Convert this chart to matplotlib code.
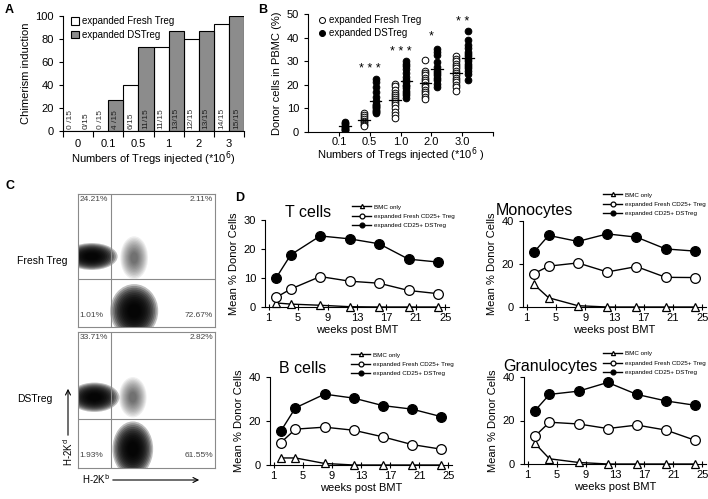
import numpy as np
import matplotlib
matplotlib.use("Agg")
import matplotlib.pyplot as plt
from matplotlib.patches import Ellipse, FancyArrowPatch

plt.rcParams['font.family'] = ['Liberation Sans', 'DejaVu Sans']
plt.rcParams['axes.linewidth'] = 0.8

# ---- panel A: chimerism induction ----
doses_a = ["0", "0.1", "0.5", "1", "2", "3"]
fresh_pct = [0, 0, 40, 73.3, 80, 93.3]
ds_pct = [0, 26.7, 73.3, 86.7, 86.7, 100]
fresh_lbl = ["0 /15", "0 /15", "6/15", "11/15", "12/15", "14/15"]
ds_lbl = ["0/15", "4 /15", "11/15", "13/15", "13/15", "15/15"]

# ---- panel B: donor cells in PBMC ----
doses_b = ["0.1", "0.5", "1.0", "2.0", "3.0"]
b_fresh = [
    [],
    [8.0, 7.2, 6.2, 5.5, 4.8, 4.2, 3.6, 3.0, 2.5],
    [20.5, 19.5, 18, 16.5, 15.5, 15, 14, 13, 12.5, 11.5, 10, 8.5, 7, 6],
    [30.5, 26, 25, 24, 23, 22, 21, 20, 19, 18, 17, 16, 15, 14],
    [32, 31, 30, 29, 28, 27, 26, 25, 24, 23, 22, 21, 20, 19, 17.5],
]
b_ds = [
    [4.3, 3.8, 3.2, 2.7, 2.3, 1.8, 1.4, 1.0, 0.8],
    [22.5, 21, 19, 17, 15, 13, 12, 11.5, 11, 10.5, 10, 9.5, 9, 8.5, 8.0],
    [30, 29, 28, 26.5, 25, 23.5, 22, 21, 20, 19.5, 18.5, 17.5, 16.5, 15.5, 14.5],
    [35, 34, 32.5, 29.5, 27.5, 26, 25, 24, 23, 22, 20.5, 19],
    [43, 39, 37, 35.5, 34, 33, 32, 31, 30, 29, 28, 27, 26, 24.5, 22],
]
stars = ["", "* * *", "* * *", "*", "* *"]
star_y = [0, 26.5, 34, 40.5, 46.5]

# ---- panel C: flow plots (population centre x, y, width, height, density) ----
flow_names = ["Fresh Treg", "DSTreg"]
flow_pops = [
    [(0.10, 0.53, 0.28, 0.15, 1.0), (0.41, 0.12, 0.26, 0.30, 1.0), (0.41, 0.52, 0.15, 0.24, 0.25)],
    [(0.12, 0.52, 0.27, 0.16, 1.0), (0.40, 0.14, 0.22, 0.30, 1.0), (0.40, 0.52, 0.15, 0.22, 0.25)],
]
flow_pct = [
    ["24.21%", "2.11%", "1.01%", "72.67%"],
    ["33.71%", "2.82%", "1.93%", "61.55%"],
]

# ---- panel D: mean % donor cells over time ----
weeks = [2, 4, 8, 12, 16, 20, 24]
d_titles = ["T cells", "Monocytes", "B cells", "Granulocytes"]
d_bmc = [
    [1.4, 1.0, 0.6, 0.1, 0, 0, 0],
    [10.5, 4.3, 0.6, 0, 0, 0, 0],
    [3.2, 3.2, 0.7, 0, 0, 0, 0],
    [9.5, 2.4, 0.7, 0, 0, 0, 0],
]
d_fresh = [
    [3.3, 6.2, 10.5, 8.9, 8.2, 5.7, 4.6],
    [15.5, 19, 20.5, 16.3, 18.8, 13.8, 13.7],
    [10.2, 16.3, 17.2, 15.8, 12.8, 9.3, 7.2],
    [12.8, 19.2, 18.4, 16.3, 17.9, 15.6, 10.9],
]
d_ds = [
    [10, 18, 24.5, 23.5, 21.8, 16.5, 15.5],
    [25.5, 33.3, 30.5, 34, 32.5, 27, 26],
    [15.5, 26, 32.2, 30.4, 27, 25.4, 22],
    [24.5, 32, 33.5, 37.5, 32, 29, 27],
]
d_ymax = [30, 40, 40, 40]
d_yticks = [[0, 10, 20, 30], [0, 20, 40], [0, 20, 40], [0, 20, 40]]

W, H = 708, 499
fig = plt.figure(figsize=(W / 100, H / 100), dpi=100)


def add_ax(l, t, r, b):
    return fig.add_axes([l / W, 1 - b / H, (r - l) / W, (b - t) / H])


def fig_text(x, y, s, **kw):
    fig.text(x / W, 1 - y / H, s, **kw)


def clean(ax):
    ax.spines['top'].set_visible(False)
    ax.spines['right'].set_visible(False)


# ================= A =================
ax = add_ax(63, 16, 244, 131)
clean(ax)
cx = np.arange(len(doses_a)) + 0.5
ax.bar(cx - 0.25, fresh_pct, 0.5, color='white', edgecolor='black', lw=0.8,
       label='expanded Fresh Treg')
ax.bar(cx + 0.25, ds_pct, 0.5, color='#8c8c8c', edgecolor='black', lw=0.8,
       label='expanded DSTreg')
for i in range(len(doses_a)):
    ax.text(cx[i] - 0.25, 2, fresh_lbl[i], rotation=90, ha='center', va='bottom',
            fontsize=6, color='#333333')
    ax.text(cx[i] + 0.25, 2, ds_lbl[i], rotation=90, ha='center', va='bottom',
            fontsize=6, color='#222222')
ax.set_xlim(0, 6)
ax.set_ylim(0, 100)
ax.set_yticks([0, 20, 40, 60, 80, 100])
ax.set_xticks(np.arange(7))
ax.set_xticklabels([])
ax.set_xticks(cx, minor=True)
ax.set_xticklabels(doses_a, minor=True, fontsize=8)
ax.tick_params(axis='x', which='minor', length=0, pad=6)
ax.tick_params(axis='x', which='major', length=4, width=0.8)
ax.tick_params(axis='y', labelsize=8, length=3, width=0.8)
ax.set_ylabel("Chimerism induction", fontsize=8, labelpad=3)
ax.set_xlabel("Numbers of Tregs injected (*10$^{6}$)", fontsize=8, labelpad=0)
ax.legend(loc='upper left', bbox_to_anchor=(0.02, 1.04), frameon=False, fontsize=7,
          handlelength=0.8, handleheight=0.8, handletextpad=0.3, labelspacing=0.35,
          borderpad=0)

# ================= B =================
ax = add_ax(308, 14, 493, 132)
clean(ax)
for i in range(len(doses_b)):
    g = i + 1
    if b_fresh[i]:
        ax.plot([g - 0.19] * len(b_fresh[i]), b_fresh[i], 'o', ms=4.8, mfc='white',
                mec='black', mew=0.7, label='expanded Fresh Treg' if i == 1 else None)
        m = np.mean(b_fresh[i])
        ax.plot([g - 0.38, g], [m, m], color='black', lw=0.9)
    ax.plot([g + 0.19] * len(b_ds[i]), b_ds[i], 'o', ms=4.8, mfc='black',
            mec='black', mew=0.7, label='expanded DSTreg' if i == 0 else None)
    m = np.mean(b_ds[i])
    ax.plot([g, g + 0.38], [m, m], color='black', lw=0.9)
    if stars[i]:
        ax.text(g, star_y[i], stars[i], ha='center', va='center', fontsize=9)
ax.set_xlim(0, 6)
ax.set_ylim(0, 50)
ax.set_yticks([0, 10, 20, 30, 40, 50])
ax.set_xticks(np.arange(1, 7))
ax.set_xticklabels(doses_b + [""], fontsize=8)
ax.tick_params(axis='x', length=3, width=0.8, pad=0.5)
ax.tick_params(axis='y', labelsize=8, length=3, width=0.8)
ax.set_ylabel("Donor cells in PBMC (%)", fontsize=8, labelpad=3)
ax.set_xlabel("Numbers of Tregs injected (*10$^{6}$ )", fontsize=8, labelpad=-1)
h, l = ax.get_legend_handles_labels()
order = [l.index('expanded Fresh Treg'), l.index('expanded DSTreg')]
ax.legend([h[k] for k in order], [l[k] for k in order], loc='upper left',
          bbox_to_anchor=(0.03, 1.03), frameon=False, fontsize=7, handlelength=0.8,
          handletextpad=0.3, labelspacing=0.3, borderpad=0, markerscale=0.9)

# ================= C =================
layer_scales = np.linspace(1.35, 0.35, 12)
boxes = [(78, 194, 215, 327), (78, 332, 215, 468)]
for k, (l, t, r, b) in enumerate(boxes):
    ax = add_ax(l, t, r, b)
    ax.set_xlim(0, 1)
    ax.set_ylim(0, 1)
    ax.set_xticks([])
    ax.set_yticks([])
    for s in ax.spines.values():
        s.set_color('#8a8a8a')
        s.set_linewidth(0.8)
    for (px, py, pw, ph, dens) in flow_pops[k]:
        for sc in layer_scales:
            ax.add_patch(Ellipse((px, py), pw * sc, ph * sc, facecolor='black',
                                 edgecolor='none', alpha=0.25 * dens))
    ax.axvline(0.24, color='#8a8a8a', lw=0.8)
    ax.axhline(0.36, color='#8a8a8a', lw=0.8)
    p = flow_pct[k]
    kw = dict(fontsize=6, color='#444444', transform=ax.transAxes)
    ax.text(0.01, 0.985, p[0], ha='left', va='top', **kw)
    ax.text(0.985, 0.985, p[1], ha='right', va='top', **kw)
    ax.text(0.01, 0.09, p[2], ha='left', va='center', **kw)
    ax.text(0.985, 0.09, p[3], ha='right', va='center', **kw)
    fig_text(17, (t + b) / 2 + 2 * (k == 0) - 1, flow_names[k], fontsize=7.5,
             ha='left', va='center')

fig.add_artist(FancyArrowPatch(
    (68 / W, 1 - 438 / H), (68 / W, 1 - 386 / H), transform=fig.transFigure,
    arrowstyle='->', mutation_scale=9, lw=0.8, color='black'))
fig_text(68, 452, "H-2K$^{\\mathrm{d}}$", rotation=90, ha='center', va='center', fontsize=7)
fig.add_artist(FancyArrowPatch(
    (110 / W, 1 - 480 / H), (202 / W, 1 - 480 / H), transform=fig.transFigure,
    arrowstyle='->', mutation_scale=9, lw=0.8, color='black'))
fig_text(82, 479, "H-2K$^{\\mathrm{b}}$", ha='left', va='center', fontsize=7)

# ================= D =================
d_boxes = [(265, 220, 449, 307), (523, 221, 706, 307), (270, 377, 452, 465), (524, 377, 706, 464)]
d_leg = [(349, 201), (600, 189), (348, 349), (600, 348)]
d_title_pos = [(285, 217), (496, 215), (279, 373), (503, 371)]
for k in range(4):
    ax = add_ax(*d_boxes[k])
    clean(ax)
    ax.plot(weeks, d_bmc[k], '-^', color='black', lw=1.0, ms=6, mfc='white', mec='black',
            mew=0.9, clip_on=False, zorder=3, label='BMC only')
    ax.plot(weeks, d_fresh[k], '-o', color='black', lw=1.0, ms=7, mfc='white', mec='black',
            mew=0.9, clip_on=False, zorder=3, label='expanded Fresh CD25+ Treg')
    ax.plot(weeks, d_ds[k], '-o', color='black', lw=1.0, ms=7, mfc='black', mec='black',
            mew=0.9, clip_on=False, zorder=3, label='expanded CD25+ DSTreg')
    ax.set_xlim(0.5, 25.5)
    ax.set_ylim(0, d_ymax[k])
    ax.set_yticks(d_yticks[k])
    ax.set_xticks([1, 5, 9, 13, 17, 21, 25])
    ax.tick_params(axis='x', labelsize=8, direction='inout', length=4, width=0.8, pad=2)
    ax.tick_params(axis='y', labelsize=8, length=3, width=0.8)
    ax.set_ylabel("Mean % Donor Cells", fontsize=8, labelpad=3)
    ax.set_xlabel("weeks post BMT", fontsize=8, labelpad=2)
    lx, ly = d_leg[k]
    ax.legend(loc='upper left', bbox_to_anchor=(lx / W, 1 - ly / H),
              bbox_transform=fig.transFigure, frameon=False, fontsize=4.5,
              markerscale=0.5, handlelength=3.0, handletextpad=0.5,
              labelspacing=0.65, borderpad=0)
    tx, ty = d_title_pos[k]
    fig_text(tx, ty, d_titles[k], fontsize=11.5, ha='left', va='baseline')

# panel letters
for s, x, y in [("A", 5, 10), ("B", 258, 10), ("C", 5, 186), ("D", 235, 198)]:
    fig_text(x, y, s, fontsize=9, fontweight='bold', ha='left', va='center')

fig.savefig("out.png", dpi=100)
